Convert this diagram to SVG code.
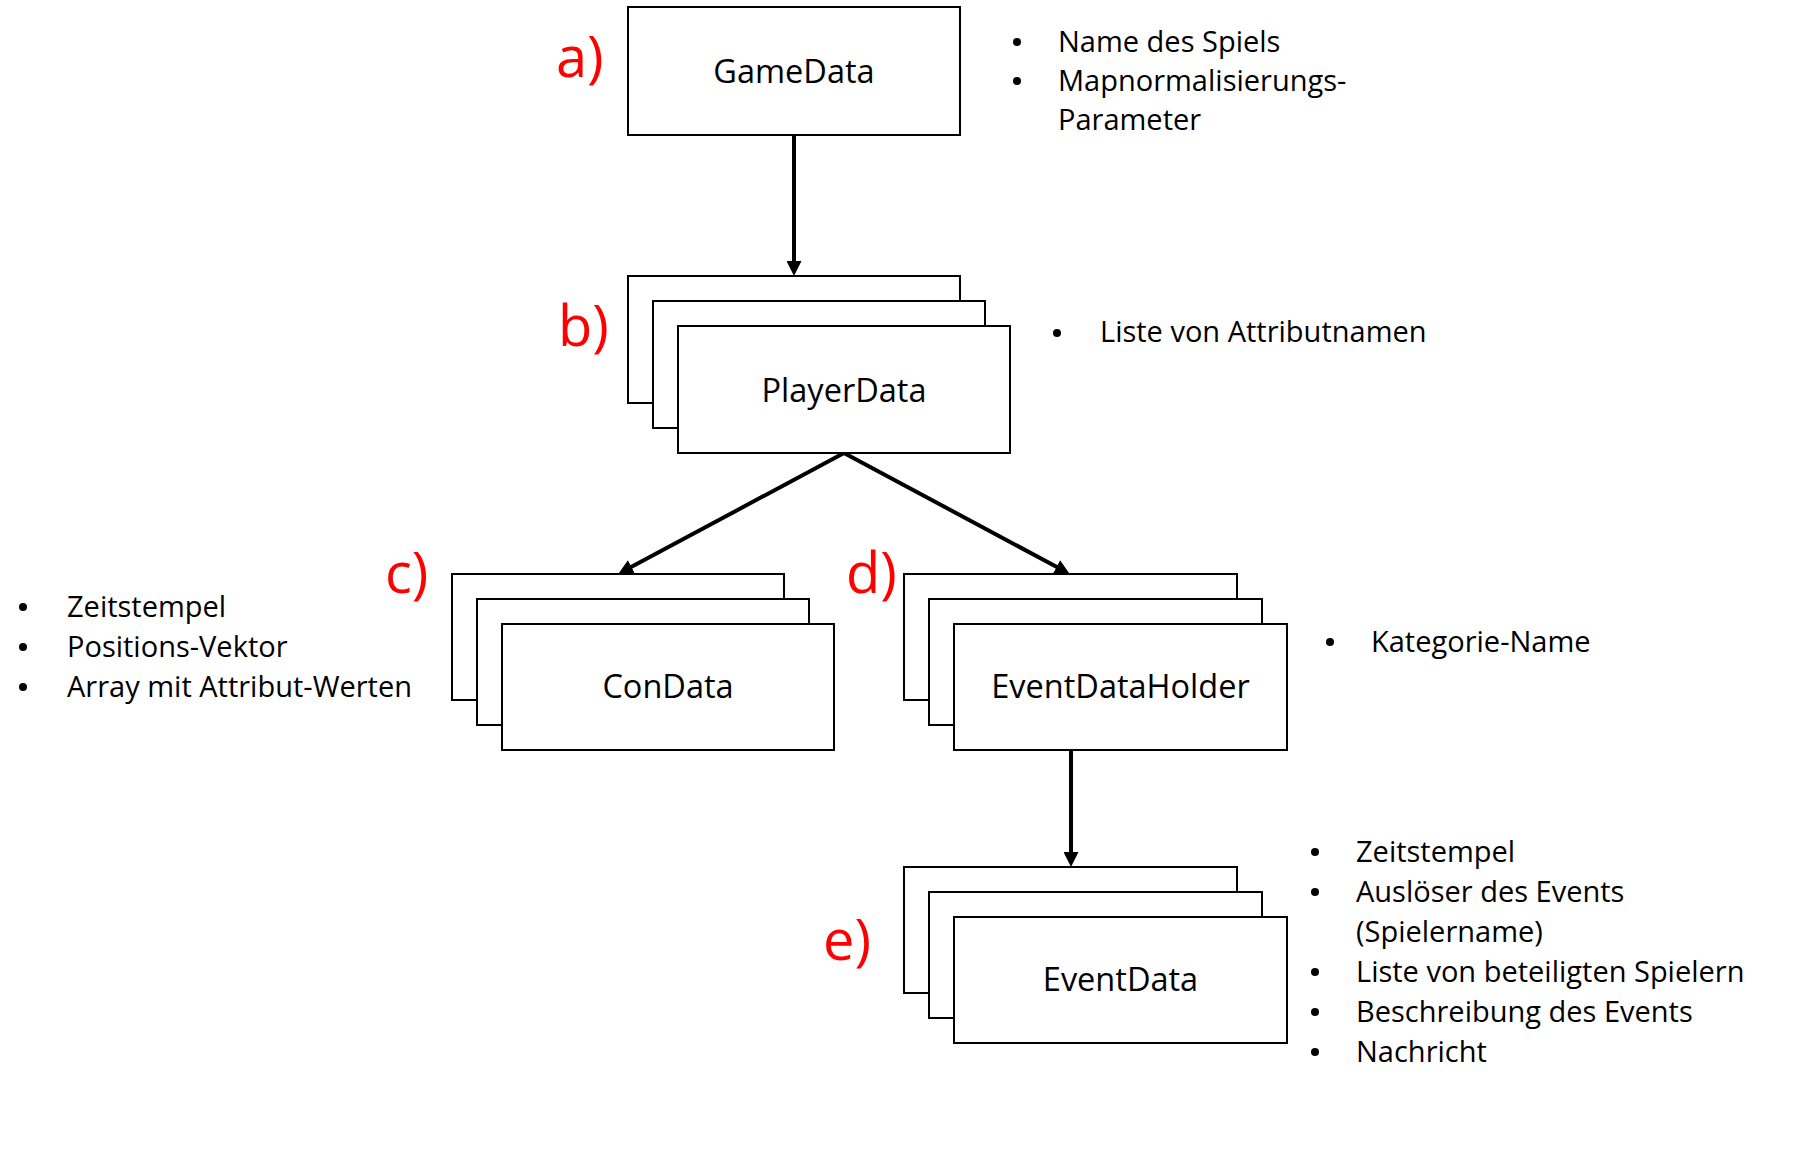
<svg xmlns="http://www.w3.org/2000/svg" width="1805" height="1162" viewBox="0 0 1805 1162">
<style>
.box{fill:#fff;stroke:#000;stroke-width:2}
.lbl{font-family:"Open Sans","Noto Sans",sans-serif;font-size:32.5px;fill:#000;text-anchor:middle}
.tag{font-family:"Open Sans","Noto Sans",sans-serif;font-size:56px;fill:#ff0000}
.li{font-family:"Open Sans","Noto Sans",sans-serif;font-size:29px;fill:#000}
.bul{fill:#000}
.con{stroke:#000;stroke-width:4;fill:none;marker-end:url(#ah)}
</style>
<defs>
<marker id="ah" markerUnits="userSpaceOnUse" markerWidth="15" markerHeight="15" refX="2" refY="7.5" orient="auto" viewBox="0 0 15 15">
<path d="M0,0 L15,7.5 L0,15 z" fill="#000"/>
</marker>
</defs>
<rect width="1805" height="1162" fill="#fff"/>
<g id="connectors">
<line class="con" x1="794" y1="135" x2="794" y2="263"/>
<line class="con" x1="844" y1="453" x2="629.7" y2="567.8"/>
<line class="con" x1="844" y1="453" x2="1058.3" y2="567.8"/>
<line class="con" x1="1071" y1="750" x2="1071" y2="854"/>
</g>
<g id="gamedata">
<rect class="box" x="628" y="7" width="332" height="128"/>
<text class="lbl" x="794" y="83">GameData</text>
<text class="tag" x="556" y="77">a)</text>
<circle class="bul" cx="1017" cy="42" r="4"/>
<text class="li" x="1058" y="52">Name des Spiels</text>
<circle class="bul" cx="1017" cy="81" r="4"/>
<text class="li" x="1058" y="91">Mapnormalisierungs-</text>
<text class="li" x="1058" y="130">Parameter</text>
</g>
<g id="playerdata">
<rect class="box" x="628" y="276" width="332" height="127"/>
<rect class="box" x="653" y="301" width="332" height="127"/>
<rect class="box" x="678" y="326" width="332" height="127"/>
<text class="lbl" x="844" y="402">PlayerData</text>
<text class="tag" x="558" y="346">b)</text>
<circle class="bul" cx="1057" cy="333" r="4"/>
<text class="li" x="1100" y="342">Liste von Attributnamen</text>
</g>
<g id="condata">
<rect class="box" x="452" y="574" width="332" height="126"/>
<rect class="box" x="477" y="599" width="332" height="126"/>
<rect class="box" x="502" y="624" width="332" height="126"/>
<text class="lbl" x="668" y="698">ConData</text>
<text class="tag" x="385" y="593">c)</text>
<circle class="bul" cx="23" cy="607" r="4"/>
<text class="li" x="67" y="617">Zeitstempel</text>
<circle class="bul" cx="23" cy="647" r="4"/>
<text class="li" x="67" y="657">Positions-Vektor</text>
<circle class="bul" cx="23" cy="687" r="4"/>
<text class="li" x="67" y="697">Array mit Attribut-Werten</text>
</g>
<g id="eventdataholder">
<rect class="box" x="904" y="574" width="333" height="126"/>
<rect class="box" x="929" y="599" width="333" height="126"/>
<rect class="box" x="954" y="624" width="333" height="126"/>
<text class="lbl" x="1120.5" y="698">EventDataHolder</text>
<text class="tag" x="846" y="593">d)</text>
<circle class="bul" cx="1330" cy="642" r="4"/>
<text class="li" x="1371" y="652">Kategorie-Name</text>
</g>
<g id="eventdata">
<rect class="box" x="904" y="867" width="333" height="126"/>
<rect class="box" x="929" y="892" width="333" height="126"/>
<rect class="box" x="954" y="917" width="333" height="126"/>
<text class="lbl" x="1120.5" y="991">EventData</text>
<text class="tag" x="823" y="960">e)</text>
<circle class="bul" cx="1315" cy="852" r="4"/>
<text class="li" x="1356" y="862">Zeitstempel</text>
<circle class="bul" cx="1315" cy="892" r="4"/>
<text class="li" x="1356" y="902">Auslöser des Events</text>
<text class="li" x="1356" y="942">(Spielername)</text>
<circle class="bul" cx="1315" cy="972" r="4"/>
<text class="li" x="1356" y="982">Liste von beteiligten Spielern</text>
<circle class="bul" cx="1315" cy="1012" r="4"/>
<text class="li" x="1356" y="1022">Beschreibung des Events</text>
<circle class="bul" cx="1315" cy="1052" r="4"/>
<text class="li" x="1356" y="1062">Nachricht</text>
</g>
</svg>
